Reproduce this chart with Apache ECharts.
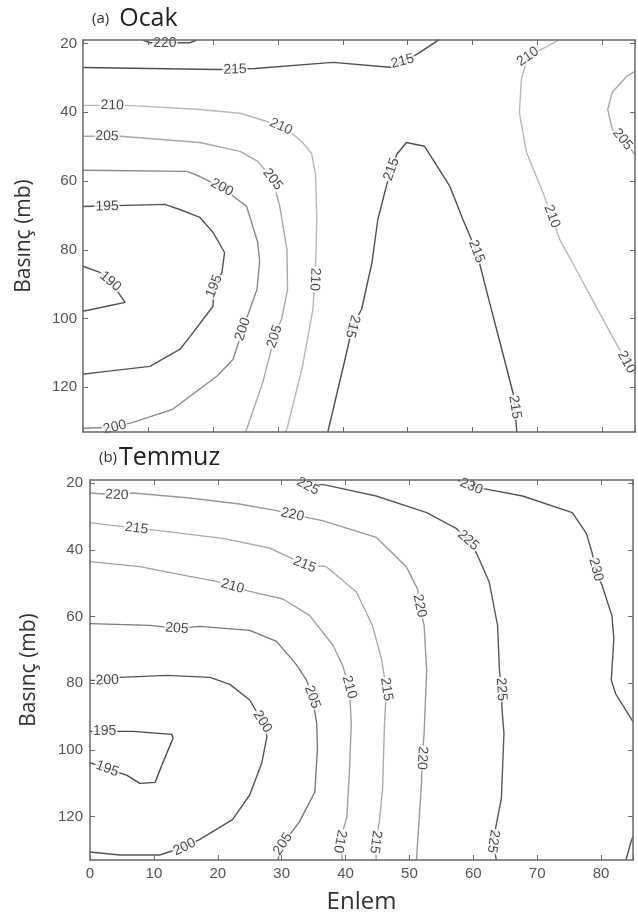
<!DOCTYPE html>
<html><head><meta charset="utf-8">
<script src="https://cdn.jsdelivr.net/npm/echarts@6/dist/echarts.min.js"></script>
<style>html,body{margin:0;padding:0;background:#fff}#c{width:638px;height:915px}</style>
</head><body><div id="c"></div>
<script>
// ---- Axis ticks ----
const latTicks = [0, 10, 20, 30, 40, 50, 60, 70, 80];
const presTicks = [20, 40, 60, 80, 100, 120];

// ---- (a) Ocak contours: [latitude, pressure mb] ----
const ocak220  = [[9.2,19.0],[10.3,19.8],[16.5,19.8],[17.5,19.0]];
const ocak215a = [[0,27.0],[10.3,27.3],[20.6,27.6],[26.5,27.3],[36.5,25.8],[38.5,25.5],[47.7,27.0],[49.2,25.2],[51.4,23.2],[54.9,18.8]];
const ocak215b = [[37.7,133],[40.6,109.8],[41.5,102.3],[42.9,97.3],[44.5,83.7],[45.4,71.2],[46.9,60.1],[48.3,52.3],[49.8,48.8],[52.6,49.9],[56.5,61.6],[58.5,71.2],[60.6,80.5],[62.6,95.3],[64.6,109.8],[66.2,121.5],[66.5,125.8],[66.8,133]];
const ocak210a = [[0,38.0],[6.8,38.0],[18.0,39.2],[24.2,40.3],[28.3,42.7],[31.8,45.5],[33.8,48.8],[35.2,52],[35.8,58],[36.0,70.3],[35.9,80],[35.7,88.6],[35.4,97.3],[33.8,113.9],[31.4,132.2],[31.2,133]];
const ocak210b = [[73.4,18.8],[71.4,20.9],[68.5,23.8],[67.5,30.5],[67.2,40.1],[68.3,51.7],[70.8,63.3],[72.2,70.3],[73.4,77.0],[76.5,87.7],[79.5,98.2],[81.5,105.2],[83.7,112.7],[85,116.2]];
const ocak205a = [[0,47.0],[5.7,47.0],[18.0,48.8],[24.2,51.4],[26.9,54.3],[29.2,59.5],[30.3,67.4],[31.4,79.9],[31.5,91.5],[30.6,100],[29.5,105.2],[27.7,118.5],[25.2,132.2],[25.0,133]];
const ocak205b = [[85,28.1],[83.7,29.6],[81.5,34.2],[80.8,39.2],[81.5,45.0],[83.1,47.9],[85,52.3]];
const ocak200  = [[0,56.9],[16,57.2],[18,58.7],[21.4,61.9],[25.2,67.4],[26.9,77.8],[27.2,83.4],[26.8,91.5],[24.6,103.1],[23.1,111.9],[20.6,116.8],[13.8,126.4],[7.7,130.2],[4.9,131.6],[0,131.9]];
const ocak195  = [[0,67.4],[12.6,66.8],[14.9,68.3],[18.0,70.6],[20.0,74.9],[21.8,80.8],[21.4,86.6],[20.2,90.6],[20.0,96.5],[16.5,105.2],[14.9,109],[10.3,113.9],[2.6,115.6],[0,116.2]];
const ocak190  = [[0,84.8],[2.6,86.6],[4.2,89.2],[6.5,95.3],[4.2,96.2],[0,97.9]];
// contour labels: [lat, pres, level]
const ocakLabels = [[12.6,19.8,220],[23.4,27.6,215],[49.2,25.2,215],[47.5,56.6,215],[41.5,102.3,215],[60.6,80.5,215],[66.5,125.8,215],
  [4.5,38.0,210],[30.5,44.2,210],[35.7,88.6,210],[68.5,23.8,210],[72.2,70.3,210],[83.7,112.7,210],
  [3.7,47.0,205],[29.2,59.5,205],[29.5,105.2,205],[83.1,47.9,205],
  [21.4,61.9,200],[24.6,103.1,200],[4.9,131.6,200],[3.7,67.4,195],[20.2,90.6,195],[4.2,89.2,190]];

// ---- (b) Temmuz contours ----
const temmuz230a = [[57.5,19],[59.7,20.9],[61.4,21.5],[67.7,23.8],[75.5,28.8],[77.7,35.0],[78.6,40.9],[79.2,45.9],[80.2,50.9],[81.7,59.7],[82.0,66.5],[81.6,79.1],[82.3,83.2],[84.8,90.9],[85,91.5]];
const temmuz230b = [[83.9,133],[84.7,127.4],[85,126]];
const temmuz225  = [[32.8,19],[34.1,20.9],[36.4,20.3],[44.8,23.8],[52.7,28.8],[57.3,33.5],[59.2,37.1],[60.5,40.9],[62.5,49.7],[63.8,62.6],[64.1,76.2],[64.4,81.8],[64.5,87.9],[64.8,95.0],[64.4,114.4],[63.6,122.4],[63.1,127.4],[63.6,133]];
const temmuz220  = [[0,22.9],[4.2,23.5],[6.7,22.9],[15.6,24.4],[23.4,26.2],[29.2,28.2],[31.7,29.4],[36.4,31.2],[44.8,36.2],[49.5,45.0],[51.3,51.8],[51.6,56.8],[52.3,62.6],[52.7,76.2],[52.3,95.0],[52.0,102.4],[51.9,109.7],[51.1,133]];
const temmuz215  = [[0,31.8],[7.3,33.5],[10.5,34.1],[20.8,36.5],[28.1,39.4],[33.6,44.4],[37.0,45.0],[41.7,52.6],[44.2,62.6],[45.6,72.4],[46.4,81.8],[46.1,92.1],[45.8,111.5],[45.3,121.5],[44.7,127.6],[44.8,133]];
const temmuz210  = [[0,43.5],[7.8,45.0],[15.6,47.9],[19.8,49.4],[22.3,50.9],[25.0,52.4],[30.2,54.7],[34.4,59.7],[38.0,68.5],[39.5,74.4],[40.6,81.2],[40.9,92.1],[40.6,106.8],[40.2,120.3],[39.1,127.4],[39.5,133]];
const temmuz205  = [[0,62.1],[9.4,62.6],[13.6,63.5],[17.2,62.9],[25.0,64.1],[29.2,67.4],[32.3,74.4],[33.9,79.1],[34.8,84.1],[35.5,92.1],[35.6,99.7],[35.2,112.6],[32.8,121.5],[30.2,128.2],[29.4,133]];
const temmuz200  = [[0,79.1],[2.7,79.1],[4.7,78.2],[12.0,77.6],[18.8,78.2],[21.9,80.3],[25.0,85.0],[27.0,91.5],[27.7,95.9],[26.9,103.8],[25.0,113.5],[22.3,120.9],[17.2,126.8],[14.8,129.1],[10.9,131.5],[4.7,131.5],[0,130.6]];
const temmuz195  = [[0,94.4],[2.3,94.4],[6.7,94.4],[12.8,95.3],[13.0,96.5],[11.4,103.8],[10.2,109.7],[7.8,110.0],[5.8,107.6],[2.7,105.6],[0,103.8]];
const temmuzLabels = [[59.7,20.9,230],[79.2,45.9,230],[34.1,20.9,225],[59.2,37.1,225],[64.4,81.8,225],[63.1,127.4,225],
  [4.2,23.5,220],[31.7,29.4,220],[51.6,56.8,220],[52.0,102.4,220],[7.3,33.5,215],[33.6,44.4,215],[46.4,81.8,215],[44.7,127.6,215],
  [22.3,50.9,210],[40.6,81.2,210],[39.1,127.4,210],[13.6,63.5,205],[34.8,84.1,205],[30.2,128.2,205],
  [2.7,79.1,200],[27.0,91.5,200],[14.8,129.1,200],[2.3,94.4,195],[2.7,105.6,195]];

// ---- assembly ----
const panels = [
  { contours: [[220,ocak220],[215,ocak215a],[215,ocak215b],[210,ocak210a],[210,ocak210b],[205,ocak205a],[205,ocak205b],[200,ocak200],[195,ocak195],[190,ocak190]],
    labels: ocakLabels,
    colors: {220:'#555',215:'#505050',210:'#b8b8b8',205:'#a8a8a8',200:'#8a8a8a',195:'#555',190:'#555'} },
  { contours: [[230,temmuz230a],[230,temmuz230b],[225,temmuz225],[220,temmuz220],[215,temmuz215],[210,temmuz210],[205,temmuz205],[200,temmuz200],[195,temmuz195]],
    labels: temmuzLabels,
    colors: {230:'#555',225:'#5a5a5a',220:'#999',215:'#ababab',210:'#a0a0a0',205:'#7a7a7a',200:'#555',195:'#4a4a4a'} }
];

const chart = echarts.init(document.getElementById('c'), null, {renderer:'canvas'});
const tickFont = {fontFamily:'Liberation Sans, Arial, sans-serif', fontSize:15, color:'#555'};
const nameFont = 'Open Sans, Noto Sans, sans-serif';
const frame = {lineStyle:{color:'#6a6a6a', width:1.5}};
const grids = [
  {left:83, top:40, width:552, height:392},
  {left:90, top:480, width:543, height:383}
];
const xAxes = [], yAxes = [];
grids.forEach((g, i) => {
  xAxes.push({type:'value', gridIndex:i, position:'bottom', min:0, max:85, interval:10, z:10,
    axisLine:{onZero:false, ...frame}, axisTick:{inside:true, length:5, lineStyle:{color:'#6a6a6a'}},
    axisLabel:{show: i===1, margin:6, ...tickFont, customValues: latTicks}, splitLine:{show:false},
    name: i===1 ? 'Enlem' : '', nameLocation:'middle', nameGap:30,
    nameTextStyle:{fontFamily:nameFont, fontSize:24, color:'#333'}});
  xAxes.push({type:'value', gridIndex:i, position:'top', min:0, max:85, interval:10, z:10,
    axisLine:{onZero:false, ...frame}, axisTick:{inside:true, length:5, lineStyle:{color:'#6a6a6a'}},
    axisLabel:{show:false}, splitLine:{show:false}});
  yAxes.push({type:'value', gridIndex:i, position:'left', inverse:true, min:19, max:133, z:10,
    axisLine:{onZero:false, ...frame},
    axisTick:{inside:true, length:5, customValues: presTicks, lineStyle:{color:'#6a6a6a'}},
    axisLabel:{margin: i===0 ? 6 : 7, ...tickFont, customValues: presTicks}, splitLine:{show:false},
    name:'Basınç (mb)', nameLocation:'middle', nameGap: i===0 ? 48 : 50, nameRotate:90,
    nameTextStyle:{fontFamily:nameFont, fontSize:21, color:'#333'}});
  yAxes.push({type:'value', gridIndex:i, position:'right', inverse:true, min:19, max:133, z:10,
    axisLine:{onZero:false, ...frame},
    axisTick:{inside:true, length:5, customValues: presTicks, lineStyle:{color:'#6a6a6a'}},
    axisLabel:{show:false, customValues: presTicks}, splitLine:{show:false}});
});

function buildSeries(rotations) {
  const series = [];
  panels.forEach((p, i) => {
    p.contours.forEach(([lvl, pts]) => {
      series.push({type:'line', xAxisIndex:i*2, yAxisIndex:i*2, data:pts, showSymbol:false, symbol:'none',
        smooth:false, silent:true, z:2, clip:true,
        lineStyle:{color:p.colors[lvl], width:1.4}});
    });
    series.push({type:'scatter', xAxisIndex:i*2, yAxisIndex:i*2, symbolSize:0.1, z:5, silent:true,
      itemStyle:{color:'rgba(0,0,0,0)'},
      data: p.labels.map((l, k) => ({value:l, label:{rotate: rotations ? rotations[i][k] : 0}})),
      label:{show:true, position:'inside', formatter: d => String(d.value[2]),
        fontFamily:'Liberation Sans, Arial, sans-serif', fontSize:14, color:'#1e1e1e',
        backgroundColor:'#fff', padding:[0,1], lineHeight:13}});
  });
  return series;
}

const option = {
  animation:false,
  backgroundColor:'#fff',
  title:[
    {text:'{a|(a)}{b|Ocak}', left:87, top:1, textStyle:{fontWeight:'normal', rich:{
      a:{fontSize:15, color:'#333', fontFamily:nameFont, fontWeight:'normal', padding:[0,10,0,0]},
      b:{fontSize:25, color:'#222', fontFamily:nameFont, fontWeight:'normal'}}}},
    {text:'{a|(b)}{b|Temmuz}', left:94, top:440, textStyle:{fontWeight:'normal', rich:{
      a:{fontSize:15, color:'#333', fontFamily:nameFont, fontWeight:'normal', padding:[0,2,0,0]},
      b:{fontSize:25, color:'#222', fontFamily:nameFont, fontWeight:'normal'}}}}
  ],
  grid: grids,
  xAxis: xAxes,
  yAxis: yAxes,
  series: buildSeries(null)
};
chart.setOption(option);

// orient each contour label along its line
const rotations = panels.map((p, i) => p.labels.map(l => {
  const lp = chart.convertToPixel({xAxisIndex:i*2, yAxisIndex:i*2}, [l[0], l[1]]);
  let best = null, bestD = Infinity;
  p.contours.forEach(([lvl, pts]) => {
    if (lvl !== l[2]) return;
    const px = pts.map(q => chart.convertToPixel({xAxisIndex:i*2, yAxisIndex:i*2}, q));
    for (let k = 0; k < px.length - 1; k++) {
      const a = px[k], b = px[k+1];
      const dx = b[0]-a[0], dy = b[1]-a[1];
      const L2 = dx*dx + dy*dy || 1;
      let t = ((lp[0]-a[0])*dx + (lp[1]-a[1])*dy) / L2;
      t = Math.max(0, Math.min(1, t));
      const cx = a[0]+t*dx, cy = a[1]+t*dy;
      const d = Math.hypot(lp[0]-cx, lp[1]-cy);
      if (d < bestD) {
        bestD = d;
        const p0 = px[Math.max(0, k-1)], p1 = px[Math.min(px.length-1, k+2)];
        best = [ (b[0]-a[0]) * 2 + (p1[0]-p0[0]) * 0.5, (b[1]-a[1]) * 2 + (p1[1]-p0[1]) * 0.5 ];
      }
    }
  });
  if (!best) return 0;
  let ang = Math.atan2(-best[1], best[0]) * 180 / Math.PI;
  while (ang >= 90) ang -= 180;
  while (ang < -90) ang += 180;
  if (ang > 75) ang -= 180; // near-vertical labels read top-to-bottom
  return ang;
}));
chart.setOption({series: buildSeries(rotations)});
</script>
</body></html>
